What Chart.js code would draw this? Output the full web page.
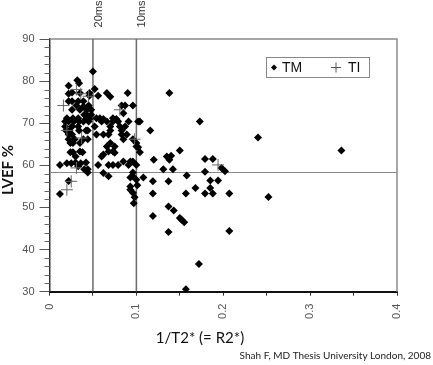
<!DOCTYPE html>
<html>
<head>
<meta charset="utf-8">
<script src="https://cdn.jsdelivr.net/npm/chart.js@4.4.1/dist/chart.umd.min.js"></script>
<style>
  html, body { margin: 0; padding: 0; background: #fff; }
  #c { display: block; }
</style>
</head>
<body>
<canvas id="c" width="433" height="365"></canvas>
<script>
// TM patients: [R2*, LVEF %]
const tmPoints = [
  [0.050, 82.3], [0.032, 80.2], [0.034, 79.5], [0.022, 78.9], [0.052, 78.1],
  [0.022, 77.0], [0.026, 77.3], [0.035, 77.2], [0.046, 77.2], [0.066, 77.2],
  [0.090, 77.2], [0.138, 77.2], [0.046, 76.5], [0.056, 76.5], [0.070, 76.3],
  [0.022, 75.2], [0.026, 75.2], [0.033, 75.2], [0.039, 75.2],
  [0.083, 74.2], [0.087, 74.2], [0.096, 74.2], [0.031, 74.2], [0.039, 74.0], [0.045, 74.2],
  [0.026, 73.2], [0.035, 73.2], [0.043, 73.2], [0.048, 73.2], [0.085, 72.4],
  [0.040, 72.0], [0.044, 71.8], [0.048, 72.0],
  [0.020, 71.2], [0.027, 71.2], [0.033, 71.2], [0.043, 71.2], [0.046, 71.0],
  [0.054, 71.2], [0.058, 71.2], [0.062, 71.0], [0.073, 71.2], [0.077, 71.0],
  [0.018, 70.4], [0.022, 70.4], [0.028, 70.4], [0.034, 70.4], [0.039, 70.4], [0.045, 70.4],
  [0.060, 70.4], [0.066, 70.4], [0.073, 70.4], [0.079, 70.4], [0.091, 70.4], [0.102, 70.4], [0.104, 70.4],
  [0.173, 70.4],
  [0.052, 69.2], [0.070, 69.2], [0.081, 69.2], [0.087, 69.2], [0.018, 69.2], [0.026, 69.2], [0.033, 69.2],
  [0.019, 68.3], [0.023, 68.3], [0.034, 68.3], [0.042, 68.3], [0.044, 68.3],
  [0.070, 68.3], [0.083, 68.3], [0.116, 68.3],
  [0.054, 67.3], [0.062, 67.3], [0.068, 67.3], [0.083, 67.3], [0.089, 67.3], [0.022, 67.3], [0.026, 67.3],
  [0.022, 66.2], [0.029, 66.2], [0.039, 66.2], [0.044, 66.2], [0.085, 66.2], [0.096, 66.2],
  [0.240, 66.6],
  [0.024, 65.3], [0.027, 65.3], [0.035, 65.3], [0.070, 65.3], [0.100, 65.3],
  [0.066, 64.5], [0.075, 64.5], [0.100, 64.5], [0.102, 64.3],
  [0.035, 63.3], [0.068, 63.3], [0.073, 63.3], [0.104, 63.1],
  [0.024, 63.1], [0.027, 63.1], [0.038, 63.1], [0.075, 63.0], [0.150, 63.5], [0.336, 63.5],
  [0.030, 62.1], [0.060, 62.1], [0.062, 62.6], [0.135, 62.1], [0.140, 62.3],
  [0.120, 61.3], [0.138, 61.3], [0.179, 61.5], [0.188, 61.5],
  [0.020, 60.5], [0.025, 60.5], [0.030, 60.7], [0.036, 60.5], [0.042, 60.7],
  [0.085, 60.9], [0.093, 60.9], [0.096, 60.9],
  [0.012, 60.1], [0.056, 60.1], [0.068, 60.1], [0.073, 60.1], [0.079, 60.1], [0.091, 60.1], [0.100, 60.1],
  [0.033, 59.8], [0.040, 59.1], [0.044, 59.1], [0.131, 59.1], [0.142, 59.1],
  [0.198, 59.4], [0.202, 58.6], [0.179, 58.5],
  [0.044, 58.3], [0.062, 58.2], [0.096, 58.3],
  [0.158, 57.6], [0.068, 57.4], [0.096, 57.4], [0.108, 57.1], [0.093, 57.1],
  [0.100, 56.6], [0.022, 56.3], [0.119, 56.2], [0.137, 56.2], [0.185, 56.4], [0.194, 56.4],
  [0.101, 55.3], [0.093, 55.0], [0.168, 54.6], [0.185, 54.6], [0.093, 54.2], [0.096, 53.5],
  [0.119, 53.3], [0.157, 53.3], [0.179, 53.3], [0.188, 53.3], [0.207, 53.3], [0.012, 53.2],
  [0.252, 52.5], [0.098, 52.4], [0.097, 51.0],
  [0.137, 50.2], [0.143, 49.3], [0.119, 48.0],
  [0.150, 47.5], [0.152, 47.1], [0.155, 46.5],
  [0.137, 44.2], [0.207, 44.4], [0.172, 36.6], [0.157, 30.6]
];

// TI patients: [R2*, LVEF %]
const tiPoints = [
  [0.031, 78.0], [0.036, 77.0], [0.045, 76.4], [0.016, 74.2], [0.081, 73.2],
  [0.020, 68.3], [0.037, 66.5], [0.098, 66.2], [0.031, 59.4],
  [0.025, 56.2], [0.020, 54.2], [0.194, 60.1]
];

const msLines = [0.05, 0.1];
const msLabels = ["20ms", "10ms"];
const lvefLine = 58.3;
const xRange = [0, 0.4];
const yRange = [30, 90];
const yMinorStep = 2;

function $(id) { return document.getElementById(id); }
const toXY = arr => arr.map(p => ({ x: p[0], y: p[1] }));

const lineDs = (data, color, width) => ({
  type: "line", label: "", data, borderColor: color, borderWidth: width,
  pointRadius: 0, fill: false, order: 5
});

// borders, minor ticks, annotations, legend box
const decor = {
  id: "decor",
  beforeDatasetsDraw(chart) {
    const { ctx, chartArea: a } = chart;
    ctx.save();
    ctx.strokeStyle = "#8a8a8a";
    ctx.lineWidth = 1.5;
    ctx.beginPath();
    ctx.moveTo(a.left, a.top);
    ctx.lineTo(a.right, a.top);
    ctx.lineTo(a.right, a.bottom);
    ctx.stroke();
    ctx.restore();
  },
  afterDraw(chart) {
    const { ctx, chartArea: a, scales } = chart;
    ctx.save();

    // minor y ticks
    ctx.strokeStyle = "#666";
    ctx.lineWidth = 1;
    for (let v = yRange[0]; v <= yRange[1]; v += yMinorStep) {
      if (v % 10 === 0) continue;
      const py = Math.round(scales.y.getPixelForValue(v)) + 0.5;
      ctx.beginPath();
      ctx.moveTo(a.left - 5, py);
      ctx.lineTo(a.left, py);
      ctx.stroke();
    }

    // 20ms / 10ms labels
    ctx.fillStyle = "#333";
    ctx.font = "11px 'Liberation Sans'";
    ctx.textAlign = "center";
    ctx.textBaseline = "middle";
    msLines.forEach((v, i) => {
      const px = scales.x.getPixelForValue(v) + 6;
      ctx.save();
      ctx.translate(px, 14);
      ctx.rotate(-Math.PI / 2);
      ctx.fillText(msLabels[i], 0, 0);
      ctx.restore();
    });

    // y title
    ctx.fillStyle = "#111";
    ctx.font = "bold 15px Lato";
    ctx.save();
    ctx.translate(8, 170);
    ctx.rotate(-Math.PI / 2);
    ctx.fillText("LVEF %", 0, 0);
    ctx.restore();

    // x title
    ctx.font = "15px Lato";
    ctx.textBaseline = "alphabetic";
    ctx.fillText("1/T2* (= R2*)", 200, 343);

    // source
    ctx.font = "10px Lato";
    ctx.fillStyle = "#222";
    ctx.textAlign = "right";
    ctx.fillText("Shah F, MD Thesis University London, 2008", 431, 359);

    // legend
    const lx = 266.5, ly = 57.5, lw = 103, lh = 20;
    ctx.strokeStyle = "#888";
    ctx.lineWidth = 1;
    ctx.strokeRect(lx, ly, lw, lh);
    const cy = ly + lh / 2;
    ctx.fillStyle = "#000";
    ctx.beginPath();
    ctx.moveTo(274, cy - 3); ctx.lineTo(277, cy); ctx.lineTo(274, cy + 3); ctx.lineTo(271, cy);
    ctx.closePath();
    ctx.fill();
    ctx.strokeStyle = "#555";
    ctx.beginPath();
    ctx.moveTo(331, cy); ctx.lineTo(341, cy);
    ctx.moveTo(336, cy - 5); ctx.lineTo(336, cy + 5);
    ctx.stroke();
    ctx.fillStyle = "#111";
    ctx.font = "14px 'Liberation Sans'";
    ctx.textAlign = "left";
    ctx.textBaseline = "middle";
    ctx.fillText(chart.data.datasets[0].label, 282, cy + 1);
    ctx.fillText(chart.data.datasets[1].label, 348, cy + 1);

    ctx.restore();
  }
};

new Chart($("c"), {
  type: "scatter",
  data: {
    datasets: [
      { label: "TM", data: toXY(tmPoints), pointStyle: "rectRot", pointRadius: 4, pointHoverRadius: 4,
        backgroundColor: "#000", borderColor: "#000", borderWidth: 0, order: 2 },
      { label: "TI", data: toXY(tiPoints), pointStyle: "cross", pointRadius: 6, pointHoverRadius: 6,
        borderColor: "#666", borderWidth: 1, order: 1 },
      ...msLines.map(v => lineDs([{ x: v, y: yRange[0] }, { x: v, y: yRange[1] }], "#6a6a6a", 1.5)),
      lineDs([{ x: xRange[0], y: lvefLine }, { x: xRange[1], y: lvefLine }], "#888", 1)
    ]
  },
  options: {
    responsive: false,
    animation: false,
    events: [],
    layout: { padding: { top: 39, right: 36, left: 0, bottom: 0 } },
    plugins: { legend: { display: false }, tooltip: { enabled: false } },
    scales: {
      x: {
        type: "linear", min: xRange[0], max: xRange[1],
        ticks: {
          stepSize: 0.05, autoSkip: false, minRotation: 90, maxRotation: 90, padding: 8,
          color: "#555", font: { family: "Liberation Sans", size: 11 },
          callback: v => { const r = Math.round(v * 100); return r % 10 === 0 ? String(r / 100) : ""; }
        },
        grid: { drawOnChartArea: false, tickLength: 4, color: "#333" },
        border: { color: "#111", width: 2 },
        afterFit: s => { s.height = 73.3; }
      },
      y: {
        min: yRange[0], max: yRange[1],
        ticks: { stepSize: 10, padding: 5, color: "#555", font: { family: "Liberation Sans", size: 11 } },
        grid: { drawOnChartArea: false, tickLength: 10, color: "#555" },
        border: { color: "#333", width: 1.5 },
        afterFit: s => { s.width = 49.5; }
      }
    }
  },
  plugins: [decor]
});
</script>
</body>
</html>
